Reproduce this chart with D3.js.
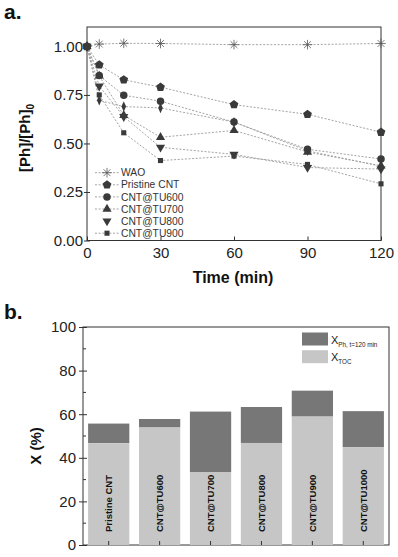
<!DOCTYPE html>
<html>
<head>
<meta charset="utf-8">
<script src="https://cdn.jsdelivr.net/npm/d3@7"></script>
<style>
  body { margin: 0; background: #fff; }
  svg { display: block; font-family: "Liberation Sans", Arial, sans-serif; }
  .axis path, .axis line { stroke: #333; }
  .axis text { fill: #222; font-size: 15px; font-family: "Liberation Sans", Arial, sans-serif; }
</style>
</head>
<body>
<script>
// ---- panel a: phenol decay ----
const times = [0, 5, 15, 30, 60, 90, 120];
const timeTicks = [0, 30, 60, 90, 120];
const ratioTicks = [0, 0.25, 0.5, 0.75, 1.0];
const seriesNames = ["WAO", "Pristine CNT", "CNT@TU600", "CNT@TU700", "CNT@TU800", "CNT@TU900", "CNT@TU1000"];
const waoVals = [1.0, 1.012, 1.016, 1.015, 1.009, 1.009, 1.015];
const pristineVals = [1.0, 0.905, 0.828, 0.79, 0.70, 0.65, 0.558];
const tu600Vals = [1.0, 0.85, 0.748, 0.718, 0.61, 0.47, 0.42];
const tu700Vals = [1.0, 0.848, 0.645, 0.532, 0.567, 0.456, 0.385];
const tu800Vals = [1.0, 0.795, 0.638, 0.48, 0.444, 0.376, 0.368];
const tu900Vals = [1.0, 0.75, 0.555, 0.412, 0.435, 0.392, 0.292];
const tu1000Vals = [1.0, 0.722, 0.69, 0.683, 0.61, 0.462, 0.383];

// ---- panel b: conversion bars ----
const catalysts = ["Pristine CNT", "CNT@TU600", "CNT@TU700", "CNT@TU800", "CNT@TU900", "CNT@TU1000"];
const xToc = [46.7, 53.9, 33.3, 46.8, 58.9, 44.8];
const xPh = [55.7, 57.8, 61.2, 63.3, 70.8, 61.4];
const convTicks = [0, 20, 40, 60, 80, 100];

const w = 398, h = 557;
const svg = d3.select("body").append("svg")
  .attr("width", w)
  .attr("height", h);

// ================= panel a =================
const a = { left: 87, right: 381, top: 27, bottom: 240.5 };

const xScale = d3.scaleLinear().domain([0, 120]).range([a.left, a.right]);
const yScale = d3.scaleLinear().domain([0, 1.1]).range([a.bottom, a.top]);

// frame
svg.append("rect")
  .attr("x", a.left).attr("y", a.top)
  .attr("width", a.right - a.left).attr("height", a.bottom - a.top)
  .attr("fill", "none").attr("stroke", "#333").attr("stroke-width", 1);

const xAxisA = svg.append("g")
  .attr("class", "axis")
  .attr("transform", `translate(0,${a.bottom})`)
  .call(d3.axisBottom(xScale).tickValues(timeTicks).tickSizeInner(-4).tickSizeOuter(0).tickPadding(7));
xAxisA.select(".domain").remove();

const yAxisA = svg.append("g")
  .attr("class", "axis")
  .attr("transform", `translate(${a.left},0)`)
  .call(d3.axisLeft(yScale).tickValues(ratioTicks).tickFormat(d3.format(".2f")).tickSizeInner(3).tickSizeOuter(0).tickPadding(1));
yAxisA.select(".domain").remove();
yAxisA.selectAll(".tick line").attr("x1", 3).attr("x2", -3);

// marker shapes
function pentagon(r) {
  const pts = d3.range(5).map(i => {
    const ang = -Math.PI / 2 + i * 2 * Math.PI / 5;
    return [r * Math.cos(ang), r * Math.sin(ang)];
  });
  return "M" + pts.join("L") + "Z";
}
function asterisk(r) {
  let p = "";
  [0, 45, 90, 135].forEach(deg => {
    const t = deg * Math.PI / 180;
    p += `M${-r * Math.cos(t)},${-r * Math.sin(t)}L${r * Math.cos(t)},${r * Math.sin(t)}`;
  });
  return p;
}
const markerPaths = [
  { d: asterisk(4.8), stroke: true },
  { d: pentagon(4.6) },
  { d: d3.symbol(d3.symbolCircle, 44)() },
  { d: d3.symbol(d3.symbolTriangle, 36)() },
  { d: d3.symbol(d3.symbolTriangle, 36)(), rot: 180 },
  { d: d3.symbol(d3.symbolSquare, 26)() },
  { d: d3.symbol(d3.symbolDiamond, 26)(), sx: 0.85, sy: 1.1 }
];

const allVals = [waoVals, pristineVals, tu600Vals, tu700Vals, tu800Vals, tu900Vals, tu1000Vals];
const series = seriesNames.map((name, i) => ({
  name,
  marker: markerPaths[i],
  points: times.map((t, j) => ({ t, v: allVals[i][j] }))
}));

const line = d3.line().x(d => xScale(d.t)).y(d => yScale(d.v));

function placeMarker(sel, m) {
  sel.attr("d", m.d)
    .attr("fill", m.stroke ? "none" : "#3a3a3a")
    .attr("stroke", m.stroke ? "#555" : "none")
    .attr("stroke-width", m.stroke ? 0.8 : 0);
}

function markerTransform(m, x, y) {
  let tr = `translate(${x},${y})`;
  if (m.rot) tr += ` rotate(${m.rot})`;
  if (m.sx) tr += ` scale(${m.sx},${m.sy})`;
  return tr;
}

// lines first
svg.append("g").selectAll("path")
  .data(series)
  .join("path")
  .attr("d", d => line(d.points))
  .attr("fill", "none")
  .attr("stroke", "#9a9a9a")
  .attr("stroke-width", 0.9)
  .attr("stroke-dasharray", "2,1.6");

// markers (drawn in order, TU1000 diamonds before squares)
const drawOrder = [0, 1, 2, 3, 4, 6, 5];
drawOrder.forEach(i => {
  const s = series[i];
  svg.append("g").selectAll("path")
    .data(s.points)
    .join("path")
    .call(placeMarker, s.marker)
    .attr("transform", d => markerTransform(s.marker, xScale(d.t), yScale(d.v)));
});

// legend (TU1000 row falls off the bottom in the original)
const legendRows = series.slice(0, 6);
const lg = svg.append("g");
legendRows.forEach((s, i) => {
  const y = 172.7 + i * 12.1;
  if (i !== 4) {
    lg.append("line")
      .attr("x1", 95).attr("x2", 119).attr("y1", y).attr("y2", y)
      .attr("stroke", "#9a9a9a").attr("stroke-width", 0.9).attr("stroke-dasharray", "2,1.6");
  }
  lg.append("path")
    .call(placeMarker, s.marker)
    .attr("transform", markerTransform(s.marker, 107, y));
  lg.append("text")
    .attr("x", 121).attr("y", y)
    .attr("dy", "0.35em")
    .attr("font-size", 10.3)
    .attr("fill", "#333")
    .text(s.name);
});

// titles
svg.append("text")
  .attr("x", 4).attr("y", 19)
  .attr("font-size", 21).attr("font-weight", "bold").attr("fill", "#111")
  .text("a.");

svg.append("text")
  .attr("x", (a.left + a.right) / 2 - 1).attr("y", 283)
  .attr("text-anchor", "middle")
  .attr("font-size", 16).attr("font-weight", "bold").attr("fill", "#111")
  .text("Time (min)");

const yTitleA = svg.append("text")
  .attr("transform", "translate(30,138) rotate(-90)")
  .attr("text-anchor", "middle")
  .attr("font-size", 15).attr("font-weight", "bold").attr("fill", "#111");
yTitleA.append("tspan").text("[Ph]/[Ph]");
yTitleA.append("tspan").attr("font-size", 10).attr("dy", 4).text("0");

// ================= panel b =================
const b = { left: 83, right: 389, top: 327, bottom: 545 };

const xBand = d3.scaleBand().domain(catalysts).range([b.left, b.right])
  .paddingInner(0.19).paddingOuter(0.1);
const yConv = d3.scaleLinear().domain([0, 100]).range([b.bottom, b.top]);

svg.append("rect")
  .attr("x", b.left).attr("y", b.top)
  .attr("width", b.right - b.left).attr("height", b.bottom - b.top)
  .attr("fill", "none").attr("stroke", "#333").attr("stroke-width", 1);

const barData = catalysts.map((c, i) => ({ c, toc: xToc[i], ph: xPh[i] }));

// dark part: total phenol conversion
svg.append("g").selectAll("rect")
  .data(barData)
  .join("rect")
  .attr("x", d => xBand(d.c))
  .attr("width", xBand.bandwidth())
  .attr("y", d => yConv(d.ph))
  .attr("height", d => yConv(d.toc) - yConv(d.ph))
  .attr("fill", "#777");

// light part: TOC conversion
svg.append("g").selectAll("rect")
  .data(barData)
  .join("rect")
  .attr("x", d => xBand(d.c))
  .attr("width", xBand.bandwidth())
  .attr("y", d => yConv(d.toc))
  .attr("height", d => b.bottom - yConv(d.toc))
  .attr("fill", "#c6c6c6");

// bar labels
svg.append("g").selectAll("text")
  .data(barData)
  .join("text")
  .attr("transform", d => `translate(${xBand(d.c) + xBand.bandwidth() / 2},532) rotate(-90)`)
  .attr("dy", "0.35em")
  .attr("font-size", 9.5).attr("font-weight", "bold").attr("fill", "#111")
  .text(d => d.c);

const xAxisB = svg.append("g")
  .attr("class", "axis")
  .attr("transform", `translate(0,${b.bottom})`)
  .call(d3.axisBottom(xBand).tickSizeInner(-4).tickSizeOuter(0).tickFormat(""));
xAxisB.select(".domain").remove();

const yAxisB = svg.append("g")
  .attr("class", "axis")
  .attr("transform", `translate(${b.left},0)`)
  .call(d3.axisLeft(yConv).tickValues(convTicks).tickSizeInner(4).tickSizeOuter(0).tickPadding(3));
yAxisB.select(".domain").remove();
yAxisB.selectAll(".tick line").attr("x1", 4).attr("x2", -4);

// minor ticks
svg.append("g").selectAll("line")
  .data([10, 30, 50, 70, 90])
  .join("line")
  .attr("x1", b.left).attr("x2", b.left + 3)
  .attr("y1", d => yConv(d)).attr("y2", d => yConv(d))
  .attr("stroke", "#333");

// legend b
const legB = [
  { fill: "#777", main: "X", sub: "Ph, t=120 min" },
  { fill: "#c6c6c6", main: "X", sub: "TOC" }
];
legB.forEach((l, i) => {
  const y0 = 332.5 + i * 17.7;
  svg.append("rect")
    .attr("x", 302).attr("y", y0)
    .attr("width", 26).attr("height", 13)
    .attr("fill", l.fill);
  const t = svg.append("text")
    .attr("x", 331).attr("y", y0 + 11)
    .attr("font-size", 11).attr("fill", "#222");
  t.append("tspan").text(l.main);
  t.append("tspan").attr("font-size", 6.3).attr("dy", 3).text(l.sub);
});

svg.append("text")
  .attr("x", 4).attr("y", 319)
  .attr("font-size", 21).attr("font-weight", "bold").attr("fill", "#111")
  .text("b.");

svg.append("text")
  .attr("transform", "translate(41,446) rotate(-90)")
  .attr("text-anchor", "middle")
  .attr("font-size", 15).attr("font-weight", "bold").attr("fill", "#111")
  .text("X (%)");
</script>
</body>
</html>
